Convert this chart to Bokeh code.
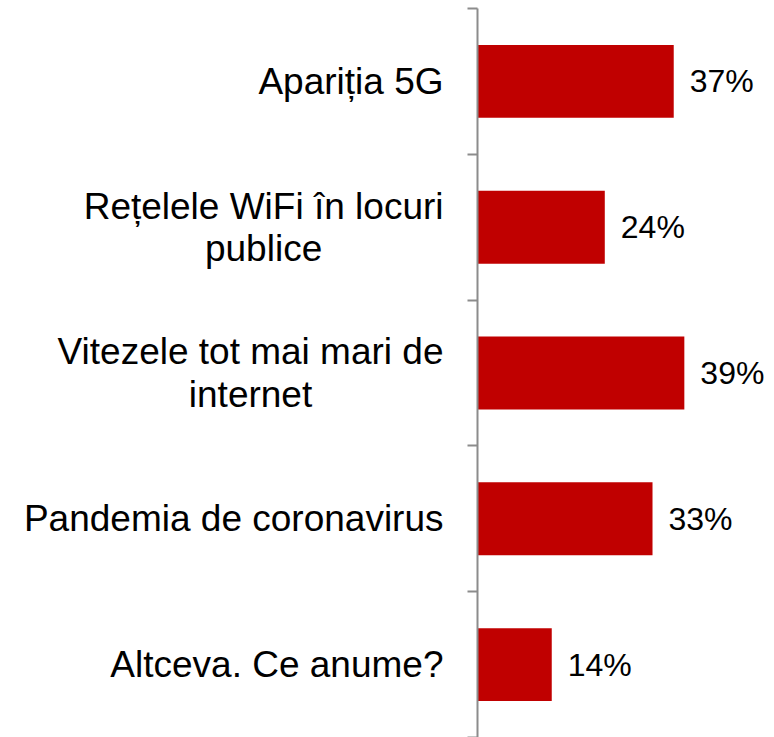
from bokeh.plotting import figure
from bokeh.models import Range1d, FixedTicker, ColumnDataSource
from bokeh.layouts import row
from bokeh.embed import file_html
from bokeh.resources import INLINE
from bokeh.core.properties import value

categories = [
    "Apariția 5G",
    "Rețelele WiFi în locuri\npublice",
    "Vitezele tot mai mari de\ninternet",
    "Pandemia de coronavirus",
    "Altceva. Ce anume?",
]
values = [37, 24, 39, 33, 14]
value_labels = [f"{v}%" for v in values]

n = len(categories)
ypos = [n - i - 0.5 for i in range(n)]

H = 737
LEFT_W = 457
AXIS_PAD = 20
LABEL_RIGHT = 443

# ---- left panel: category labels ----
lsrc = ColumnDataSource(dict(y=ypos, cat=categories, x=[LABEL_RIGHT] * n))
left = figure(width=LEFT_W, height=H, output_backend="svg", toolbar_location=None,
              x_range=Range1d(0, LEFT_W), y_range=Range1d(0, n),
              min_border_left=0, min_border_right=0, min_border_top=8, min_border_bottom=0)
left.outline_line_color = None
left.axis.visible = False
left.grid.visible = False
left.text(x="x", y="y", text="cat", source=lsrc, text_align="center",
          anchor="center_right", text_baseline="middle",
          text_font=value("Liberation Sans"), text_font_size="37px",
          text_line_height=1.03, text_color="#000000")

# ---- right panel: bars ----
src = ColumnDataSource(dict(y=ypos, v=values, lab=value_labels))
p = figure(width=774 - LEFT_W, height=H, output_backend="svg", toolbar_location=None,
           x_range=Range1d(0, 56.0), y_range=Range1d(0, n),
           min_border_left=AXIS_PAD, min_border_right=0, min_border_top=8, min_border_bottom=0)
p.outline_line_color = None
p.xgrid.visible = False
p.ygrid.visible = False
p.xaxis.visible = False

p.hbar(y="y", right="v", left=0, height=0.5, source=src, fill_color="#C00000", line_color=None)
p.text(x="v", y="y", text="lab", source=src, x_offset=16, text_baseline="middle",
       text_align="left", text_font=value("Liberation Sans"), text_font_size="32px",
       text_color="#000000")

ax = p.yaxis[0]
ax.ticker = FixedTicker(ticks=ypos, minor_ticks=list(range(n + 1)))
ax.major_label_overrides = {y: "" for y in ypos}
ax.major_tick_out = 0
ax.major_tick_in = 0
ax.minor_tick_out = 10
ax.minor_tick_in = 0
ax.minor_tick_line_color = "#8c8c8c"
ax.minor_tick_line_width = 2
ax.axis_line_color = "#8c8c8c"
ax.axis_line_width = 2

layout = row(left, p, spacing=0)
open("out.html", "w").write(file_html(layout, INLINE))
